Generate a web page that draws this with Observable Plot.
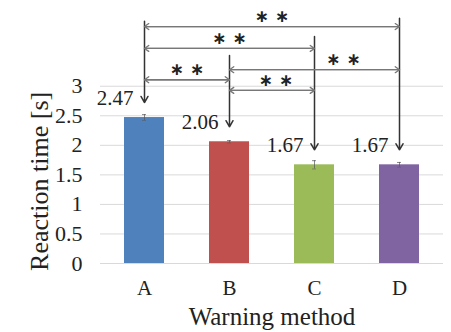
<!DOCTYPE html>
<html>
<head>
<meta charset="utf-8">
<script src="https://cdn.jsdelivr.net/npm/d3@7"></script>
<script src="https://cdn.jsdelivr.net/npm/@observablehq/plot@0.6"></script>
<style>
  html, body { margin: 0; padding: 0; background: #fff; }
  #chart svg { display: block; font-family: 'Liberation Serif', 'Times New Roman', serif !important; }
</style>
</head>
<body>
<div id="chart"></div>
<script>
// ---- data ----
const methods = ["A", "B", "C", "D"];
const means = [2.47, 2.06, 1.67, 1.67];
const errors = [0.05, 0.02, 0.07, 0.04];
const colors = ["#4F81BD", "#C0504D", "#9BBB59", "#8064A2"];
const valueLabels = ["2.47", "2.06", "1.67", "1.67"];
const yTicks = [0, 0.5, 1, 1.5, 2, 2.5, 3];
// significance brackets
const pairFrom = ["A", "A", "B", "A", "B"];
const pairTo = ["D", "C", "D", "B", "C"];
const pairLevel = [4.01, 3.64, 3.28, 3.11, 2.93];
const pairLabel = ["∗ ∗", "∗ ∗", "∗ ∗", "∗ ∗", "∗ ∗"];
const pairShift = [0, 0, 29, 0, 4];
// top of the vertical pointer line for each method
const pointerTop = [4.10, 3.52, 3.84, 4.15];

const bars = methods.map((m, i) => ({method: m, mean: means[i], err: errors[i], color: colors[i], label: valueLabels[i], top: pointerTop[i]}));
const pairs = pairFrom.map((f, i) => ({from: f, to: pairTo[i], level: pairLevel[i], label: pairLabel[i], shift: pairShift[i]}));

const serif = "'Liberation Serif', 'Times New Roman', serif";
const ink = "#222";

const base = {
  width: 451,
  height: 332,
  marginLeft: 100,
  marginRight: 8,
  marginTop: 3,
  marginBottom: 69,
  x: {domain: methods, paddingInner: 0.53, paddingOuter: 0.265, label: null},
  y: {domain: [0, 4.4], label: null}
};

// probe the band step so that bracket labels can sit midway between two categories
const probe = Plot.plot({...base, marks: [Plot.barY(bars, {x: "method", y: "mean"})]});
const step = probe.scale("x").step;

const pairTextMarks = pairs.map(p => Plot.text([p], {
  x: "from", y: "level", text: "label",
  dx: (methods.indexOf(p.to) - methods.indexOf(p.from)) * step / 2 + p.shift,
  dy: -10, fontSize: 17, fontWeight: "bold", fontFamily: "'DejaVu Sans', sans-serif", fill: ink
}));

const chart = Plot.plot({
  ...base,
  style: {background: "#fff", color: ink},
  marks: [
    Plot.gridY(yTicks, {stroke: "#d9d9d9", strokeOpacity: 1, strokeWidth: 1}),
    Plot.axisY({ticks: yTicks, tickFormat: d => `${d}`, tickSize: 0, tickPadding: 18, fontSize: 22, fontFamily: serif, label: null, fill: ink}),
    Plot.axisX({tickSize: 0, tickPadding: 17, fontSize: 21, fontFamily: serif, label: null, fill: ink}),
    Plot.barY(bars, {x: "method", y: "mean", fill: "color"}),
    Plot.ruleX(bars, {x: "method", y1: d => d.mean - d.err, y2: d => d.mean + d.err, stroke: "#555", strokeOpacity: 0.7, strokeWidth: 1}),
    Plot.tickY(bars, {x: "method", y: d => d.mean + d.err, stroke: "#555", strokeOpacity: 0.7, insetLeft: 18, insetRight: 18}),
    Plot.tickY(bars, {x: "method", y: d => d.mean - d.err, stroke: "#555", strokeOpacity: 0.5, insetLeft: 18, insetRight: 18}),
    // vertical pointer arrows
    Plot.arrow(bars, {x1: "method", x2: "method", y1: "top", y2: "mean", insetEnd: 15, headLength: 7, headAngle: 60, stroke: "#333", strokeWidth: 1.5}),
    // horizontal double-headed brackets (one arrow each way)
    Plot.arrow(pairs, {x1: "from", x2: "to", y1: "level", y2: "level", headLength: 6, headAngle: 70, stroke: "#777", strokeWidth: 1.3}),
    Plot.arrow(pairs, {x1: "to", x2: "from", y1: "level", y2: "level", headLength: 6, headAngle: 70, stroke: "#777", strokeWidth: 1.3}),
    ...pairTextMarks,
    // value labels
    Plot.text(bars, {x: "method", y: "mean", text: "label", textAnchor: "end", lineAnchor: "bottom", dx: -11, dy: -13, fontSize: 21, fontFamily: serif, fill: ink}),
    // axis titles
    Plot.text(["Reaction time [s]"], {frameAnchor: "left", y: 1.39, rotate: -90, dx: -61, textAnchor: "middle", lineAnchor: "middle", fontSize: 26, fontFamily: serif, fill: ink}),
    Plot.text(["Warning method"], {frameAnchor: "bottom", textAnchor: "middle", lineAnchor: "bottom", dy: 61, fontSize: 25, fontFamily: serif, fill: ink})
  ]
});
document.getElementById("chart").appendChild(chart);
</script>
</body>
</html>
